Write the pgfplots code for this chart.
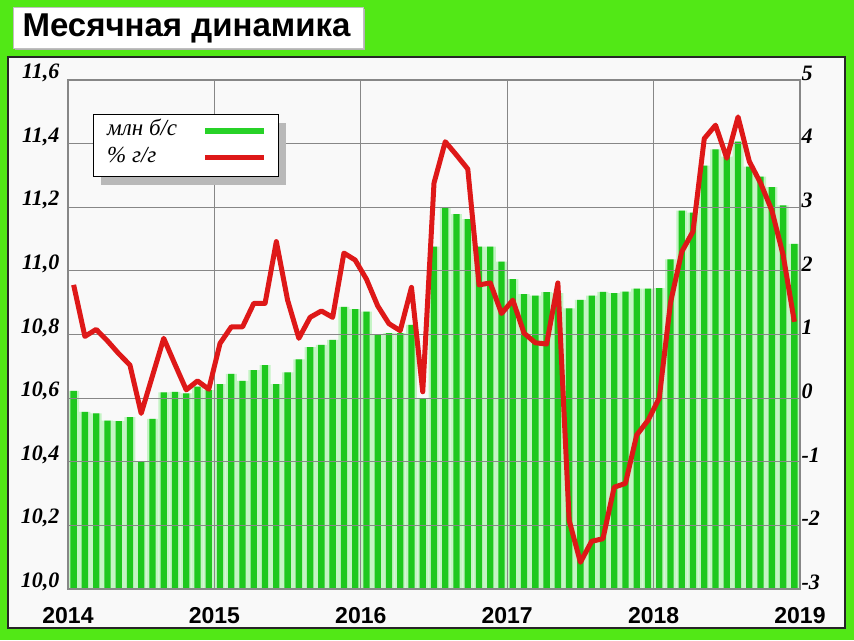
\documentclass[border=0pt]{standalone}
\usepackage{fontspec}
\setmainfont{Liberation Serif}
\newfontfamily\arial{Liberation Sans}
\usepackage{pgfplots}
\pgfplotsset{compat=1.18}

\definecolor{bggreen}{RGB}{82,232,22}
\definecolor{bargreen}{RGB}{30,200,30}
\definecolor{barpale}{RGB}{196,244,196}
\definecolor{linered}{RGB}{222,24,24}
\definecolor{legendgreen}{RGB}{40,210,40}
\definecolor{panel}{RGB}{249,249,249}
\definecolor{gridgray}{RGB}{135,135,135}

\begin{document}
\begin{tikzpicture}
\useasboundingbox (0,0) rectangle (854pt,640pt);
% background and panels
\fill[bggreen] (0,0) rectangle (854pt,640pt);
\draw[line width=2.5pt, fill=panel, draw=black!85] (8pt,12pt) rectangle (845pt,583pt);
\fill[black!30] (15pt,590pt) rectangle (365pt,631pt);
\draw[draw=gray!50, fill=white, line width=0.8pt] (13pt,592pt) rectangle (363pt,633pt);
\node[anchor=west, font=\arial\bfseries\fontsize{33}{33}\selectfont] at (19pt,612pt) {Месячная динамика};

% bars, left axis
\begin{axis}[
  at={(68pt,51pt)}, anchor=south west,
  scale only axis, width=732pt, height=509pt,
  xmin=0, xmax=65, ymin=10, ymax=11.6,
  xtick={0,13,26,39,52,65},
  xticklabels={2014,2015,2016,2017,2018,2019},
  ytick={10,10.2,10.4,10.6,10.8,11,11.2,11.4,11.6},
  yticklabels={{10,0},{10,2},{10,4},{10,6},{10,8},{11,0},{11,2},{11,4},{11,6}},
  grid=major, major grid style={gridgray, line width=1.2pt},
  axis line style={gridgray, line width=1.2pt},
  major tick length=0pt,
  axis on top,
  yticklabel style={font=\bfseries\itshape\fontsize{22}{22}\selectfont, yshift=7pt, xshift=-5pt},
  xticklabel style={font=\arial\bfseries\fontsize{23}{23}\selectfont, yshift=-15pt},
]
\pgfplotstableread{
x y
0.5 10.623
1.5 10.557
2.5 10.552
3.5 10.529
4.5 10.528
5.5 10.540
6.5 10.400
7.5 10.535
8.5 10.618
9.5 10.620
10.5 10.615
11.5 10.636
12.5 10.625
13.5 10.644
14.5 10.676
15.5 10.654
16.5 10.688
17.5 10.704
18.5 10.644
19.5 10.681
20.5 10.722
21.5 10.760
22.5 10.767
23.5 10.783
24.5 10.887
25.5 10.880
26.5 10.872
27.5 10.800
28.5 10.804
29.5 10.804
30.5 10.830
31.5 10.600
32.5 11.076
33.5 11.197
34.5 11.178
35.5 11.163
36.5 11.076
37.5 11.076
38.5 11.029
39.5 10.974
40.5 10.927
41.5 10.922
42.5 10.933
43.5 10.930
44.5 10.882
45.5 10.909
46.5 10.922
47.5 10.934
48.5 10.930
49.5 10.935
50.5 10.944
51.5 10.944
52.5 10.946
53.5 11.036
54.5 11.189
55.5 11.183
56.5 11.331
57.5 11.382
58.5 11.359
59.5 11.406
60.5 11.328
61.5 11.296
62.5 11.263
63.5 11.206
64.5 11.085
}\bardata
% pale halo then solid core of each bar
\addplot[ybar, bar width=0.97, draw=none, fill=barpale] table {\bardata};
\addplot[ybar, bar width=0.56, draw=none, fill=bargreen] table {\bardata};
\end{axis}

% legend box with its shadow
\fill[gray!55] (101pt,455pt) rectangle (286pt,517pt);
\draw[black, line width=1pt, fill=white] (93pt,463pt) rectangle (278pt,525pt);

% line, right axis
\begin{axis}[
  at={(68pt,51pt)}, anchor=south west,
  scale only axis, width=732pt, height=509pt,
  xmin=0, xmax=65, ymin=-3, ymax=5,
  axis y line*=right, axis x line=none,
  axis line style={draw=none},
  ytick={-3,-2,-1,0,1,2,3,4,5},
  yticklabels={-3,-2,-1,0,1,2,3,4,5},
  major tick length=0pt,
  yticklabel style={font=\bfseries\itshape\fontsize{22}{22}\selectfont, yshift=7pt, xshift=-2pt},
  legend style={at={(0.0505,0.9214)}, anchor=north west, draw=none, fill=none,
    inner sep=0pt, row sep=6pt,
    font=\itshape\fontsize{23}{23}\selectfont,
    nodes={inner sep=2pt, text height=13pt, text depth=4pt}},
  legend plot pos=right, legend cell align=left,
  legend image code/.code={\draw[#1] (0pt,0pt) -- (59pt,0pt);},
  /tikz/every odd column/.append style={column sep=23pt},
]
\addlegendimage{legendgreen, line width=6pt}
\addlegendentry{млн б/с}
\addplot[linered, line width=5pt, line join=round] coordinates {
  (0.5,1.78) (1.5,0.97) (2.5,1.08) (3.5,0.90) (4.5,0.70) (5.5,0.52)
  (6.5,-0.24) (7.5,0.35) (8.5,0.94) (9.5,0.53) (10.5,0.13) (11.5,0.27)
  (12.5,0.14) (13.5,0.86) (14.5,1.12) (15.5,1.12) (16.5,1.49) (17.5,1.49)
  (18.5,2.46) (19.5,1.54) (20.5,0.94) (21.5,1.27) (22.5,1.37) (23.5,1.27)
  (24.5,2.28) (25.5,2.17) (26.5,1.87) (27.5,1.45) (28.5,1.17) (29.5,1.06)
  (30.5,1.74) (31.5,0.10) (32.5,3.38) (33.5,4.03) (34.5,3.82) (35.5,3.60)
  (36.5,1.78) (37.5,1.81) (38.5,1.33) (39.5,1.54) (40.5,1.02) (41.5,0.87)
  (42.5,0.85) (43.5,1.81) (44.5,-1.92) (45.5,-2.58) (46.5,-2.25) (47.5,-2.21)
  (48.5,-1.40) (49.5,-1.34) (50.5,-0.58) (51.5,-0.35) (52.5,0.00) (53.5,1.50)
  (54.5,2.30) (55.5,2.62) (56.5,4.08) (57.5,4.29) (58.5,3.77) (59.5,4.42)
  (60.5,3.72) (61.5,3.38) (62.5,2.95) (63.5,2.25) (64.5,1.20)
};
\addlegendentry{\% г/г}
\end{axis}
\end{tikzpicture}
\end{document}
